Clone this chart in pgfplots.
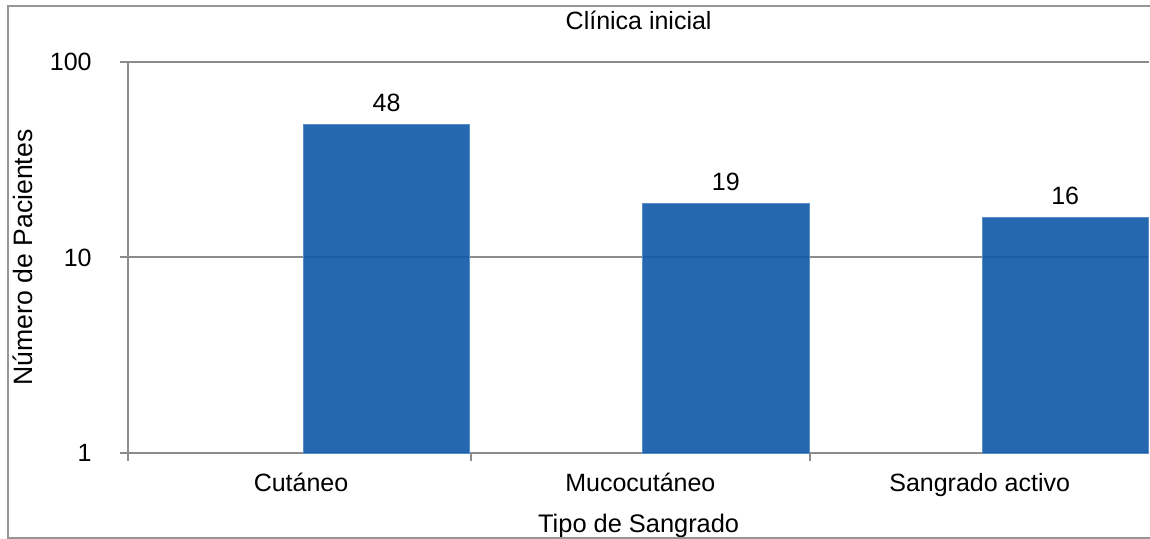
\documentclass[12pt,border=0pt]{standalone}
\usepackage{fontspec}
\setmainfont{Liberation Sans}
\usepackage{pgfplots}
\pgfplotsset{compat=1.18}
\definecolor{barblue}{RGB}{14,88,167}
\definecolor{baredge}{RGB}{90,140,200}
\definecolor{axgray}{RGB}{140,140,140}
\definecolor{framegray}{RGB}{150,150,150}
\begin{document}
\begin{tikzpicture}
\begin{axis}[
  at={(64pt,43pt)}, anchor=south west,
  width=510.65pt, height=195.5pt, scale only axis,
  ymode=log, ymin=1, ymax=100, log basis y=10,
  xmin=-0.51, xmax=2.5,
  axis x line=bottom, axis y line=left,
  axis line style={-, axgray, line width=1pt},
  ytick={1,10,100}, yticklabels={1,10,100},
  yminorticks=false,
  ymajorgrids, grid style={axgray, line width=1pt},
  y tick style={axgray, line width=1pt},
  major tick length=4pt, tick align=outside,
  xtick={0,1,2},
  xticklabels={Cutáneo,Mucocutáneo,Sangrado activo},
  major x tick style={draw=none},
  minor xtick={-0.51,0.5,1.5},
  minor x tick style={axgray, line width=1pt},
  minor tick length=4pt,
  /pgf/number format/assume math mode=true,
  ticklabel style={font=\fontsize{12.5}{15}\selectfont, text=black},
  yticklabel style={xshift=-10pt},
  xticklabel style={yshift=-2pt},
  title={Clínica inicial},
  every axis title shift=0pt,
  title style={at={(axis description cs:0.5,1.107)}, anchor=center, font=\fontsize{12.5}{15}\selectfont},
  xlabel={Tipo de Sangrado},
  xlabel style={at={(axis description cs:0.5,-0.186)}, anchor=center, font=\fontsize{12.7}{15}\selectfont},
  ylabel={Número de Pacientes},
  ylabel style={at={(axis description cs:-0.1025,0.5)}, anchor=center, rotate=0, font=\fontsize{13.3}{16}\selectfont},
  ybar, bar width=0.49, bar shift=0pt,
  nodes near coords,
  nodes near coords style={font=\fontsize{12.5}{15}\selectfont, text=black, yshift=2pt},
  point meta=explicit symbolic,
  clip=false,
]
\addplot[fill=barblue, fill opacity=0.9, text opacity=1, draw=baredge, line width=0.4pt] coordinates {
  (0.252,48) [48]
  (1.252,19) [19]
  (2.252,16) [16]
};
\end{axis}
\draw[framegray, line width=1pt] (576pt,0.6pt) -- (3.8pt,0.6pt) -- (3.8pt,266.3pt) -- (576pt,266.3pt);
\pgfresetboundingbox
\path[use as bounding box] (0,0) rectangle (575pt,269.5pt);
\end{tikzpicture}
\end{document}
